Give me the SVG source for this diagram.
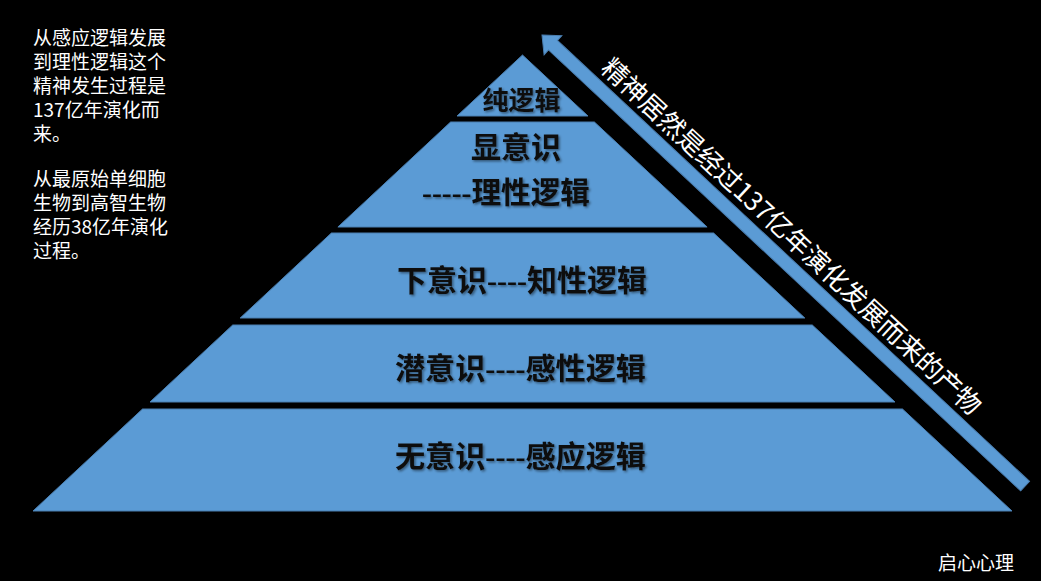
<svg xmlns="http://www.w3.org/2000/svg" width="1041" height="581" viewBox="0 0 1041 581">
  <defs>
    <style>
      .layer { fill: #5B9BD5; stroke: #4A7EB0; stroke-width: 1; }
      .lbl { font-family: "Liberation Serif", "Noto Sans CJK SC", serif; font-weight: bold; fill: #111111; text-anchor: middle; }
      .note { font-family: "Noto Sans CJK SC", "Noto Sans", sans-serif; fill: #FFFFFF; font-size: 19px; }
      .arrowtxt { font-family: "Noto Sans CJK SC", "Noto Sans", sans-serif; fill: #FFFFFF; font-size: 26px; }
    </style>
    <filter id="shadow" x="-10%" y="-20%" width="120%" height="140%">
      <feDropShadow dx="1.5" dy="1.5" stdDeviation="0.8" flood-color="#000000" flood-opacity="0.45"/>
    </filter>
  </defs>

  <rect x="0" y="0" width="1041" height="581" fill="#000000"/>

  <g id="layer-pure-logic">
    <polygon class="layer" points="522.5,55 588,116 457,116"/>
    <text class="lbl" x="521.5" y="110" font-size="26" filter="url(#shadow)">纯逻辑</text>
  </g>

  <g id="layer-conscious">
    <polygon class="layer" points="450.6,122 594.4,122 707.1,227 337.9,227"/>
    <text class="lbl" x="516" y="158" font-size="30" filter="url(#shadow)">显意识</text>
    <text class="lbl" x="506" y="203" font-size="30" textLength="168" lengthAdjust="spacingAndGlyphs" filter="url(#shadow)">-----理性逻辑</text>
  </g>

  <g id="layer-preconscious">
    <polygon class="layer" points="331.4,233 713.6,233 804.8,318 240.2,318"/>
    <text class="lbl" x="522" y="291" font-size="30" textLength="250" lengthAdjust="spacingAndGlyphs" filter="url(#shadow)">下意识----知性逻辑</text>
  </g>

  <g id="layer-subconscious">
    <polygon class="layer" points="232.7,325 812.3,325 895,402 150,402"/>
    <text class="lbl" x="520.5" y="378.5" font-size="30" textLength="251" lengthAdjust="spacingAndGlyphs" filter="url(#shadow)">潜意识----感性逻辑</text>
  </g>

  <g id="layer-unconscious">
    <polygon class="layer" points="142.5,409 902.5,409 1012,511 33,511"/>
    <text class="lbl" x="520.5" y="467" font-size="30" textLength="251" lengthAdjust="spacingAndGlyphs" filter="url(#shadow)">无意识----感应逻辑</text>
  </g>

  <g id="connectors">
    <g transform="translate(542,35) rotate(43.04)">
      <path class="layer" d="M0,0 L15,-13 L15,-6.5 L661,-6.5 L661,6.5 L15,6.5 L15,13 Z"/>
    </g>
  </g>

  <g id="arrow-label">
    <text class="arrowtxt" transform="translate(599.4,70.1) rotate(43)" x="0" y="0" textLength="508" lengthAdjust="spacing">精神居然是经过137亿年演化发展而来的产物</text>
  </g>

  <g id="side-note">
    <text class="note" x="33" y="45">从感应逻辑发展</text>
    <text class="note" x="33" y="69">到理性逻辑这个</text>
    <text class="note" x="33" y="93">精神发生过程是</text>
    <text class="note" x="33" y="117">137亿年演化而</text>
    <text class="note" x="33" y="141">来。</text>
    <text class="note" x="33" y="186">从最原始单细胞</text>
    <text class="note" x="33" y="210">生物到高智生物</text>
    <text class="note" x="33" y="234">经历38亿年演化</text>
    <text class="note" x="33" y="258">过程。</text>
  </g>

  <g id="credit">
    <text class="note" x="938" y="570">启心心理</text>
  </g>
</svg>
